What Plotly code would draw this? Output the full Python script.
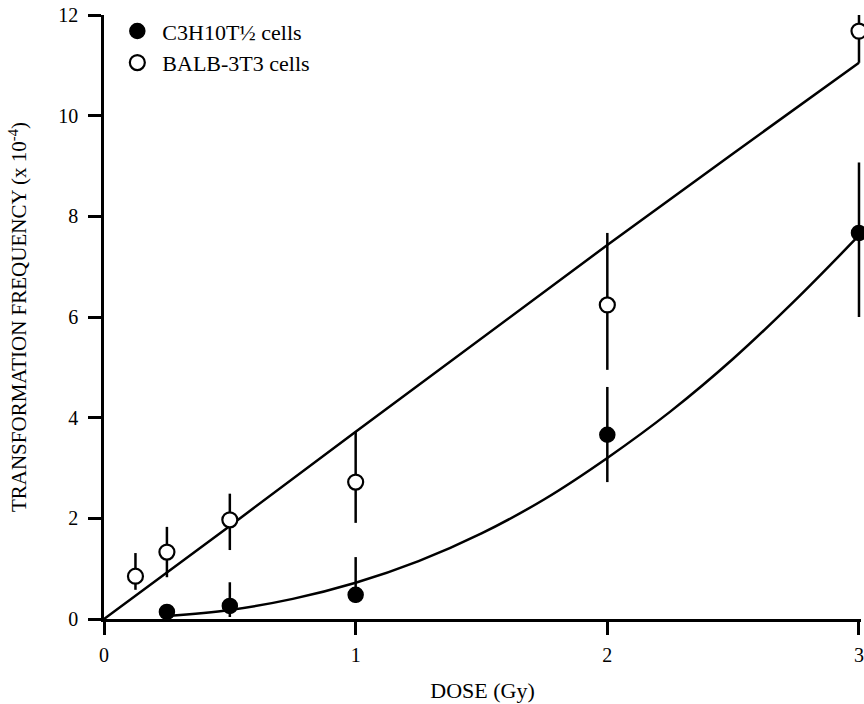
import plotly.graph_objects as go

# ---- data ----
dose_c3h = [0.25, 0.5, 1.0, 2.0, 3.0]
freq_c3h = [0.14, 0.26, 0.48, 3.66, 7.67]
err_c3h_plus = [0.0, 0.47, 0.75, 0.95, 1.40]
err_c3h_minus = [0.0, 0.22, 0.16, 0.94, 1.67]

dose_balb = [0.125, 0.25, 0.5, 1.0, 2.0, 3.0]
freq_balb = [0.85, 1.33, 1.97, 2.72, 6.24, 11.68]
err_balb_plus = [0.46, 0.50, 0.52, 1.00, 1.43, 0.42]
err_balb_minus = [0.27, 0.50, 0.60, 0.81, 1.29, 0.63]

fit_balb_x = [0, 0.5, 1.0, 1.5, 2.0, 2.5, 3.0]
fit_balb_y = [0, 1.85, 3.72, 5.58, 7.43, 9.25, 11.05]

fit_c3h_x = [0.25, 0.5, 0.75, 1.0, 1.25, 1.5, 1.75, 2.0, 2.25, 2.5, 2.75, 3.0]
fit_c3h_y = [0.06, 0.18, 0.40, 0.72, 1.15, 1.70, 2.38, 3.20, 4.12, 5.17, 6.35, 7.62]

x_ticks = [0, 1, 2, 3]
y_ticks = [0, 2, 4, 6, 8, 10, 12]

FONT = "Liberation Serif"

fig = go.Figure()

fig.add_trace(go.Scatter(x=fit_balb_x, y=fit_balb_y, mode="lines",
                         line=dict(color="black", width=2.5),
                         showlegend=False, hoverinfo="skip"))
fig.add_trace(go.Scatter(x=fit_c3h_x, y=fit_c3h_y, mode="lines",
                         line=dict(color="black", width=2.5, shape="spline", smoothing=1.0),
                         showlegend=False, hoverinfo="skip"))

fig.add_trace(go.Scatter(
    x=dose_c3h, y=freq_c3h, mode="markers", name="C3H10T½ cells",
    marker=dict(symbol="circle", size=15, color="black",
                line=dict(color="black", width=1.5)),
    error_y=dict(type="data", array=err_c3h_plus, arrayminus=err_c3h_minus,
                 symmetric=False, width=0, thickness=2.5, color="black"),
    cliponaxis=False, legendgroup="a"))

fig.add_trace(go.Scatter(
    x=dose_balb, y=freq_balb, mode="markers", name="BALB-3T3 cells",
    marker=dict(symbol="circle", size=15, color="white",
                line=dict(color="black", width=2.2)),
    error_y=dict(type="data", array=err_balb_plus, arrayminus=err_balb_minus,
                 symmetric=False, width=0, thickness=2.5, color="black"),
    cliponaxis=False, legendgroup="b"))

fig.update_layout(
    width=864, height=704,
    margin=dict(l=104, r=0, t=15, b=85),
    paper_bgcolor="white", plot_bgcolor="white",
    font=dict(family=FONT, color="black", size=20),
    legend=dict(x=0.011, y=1.008, xanchor="left", yanchor="top",
                bgcolor="rgba(0,0,0,0)", font=dict(size=22, family=FONT),
                tracegroupgap=0, itemwidth=40),
    xaxis=dict(range=[0, 3.008], tickvals=x_ticks, ticktext=[str(v) for v in x_ticks],
               showgrid=False, zeroline=False, showline=True, linecolor="black",
               linewidth=2.5, ticks="outside", ticklen=13, tickwidth=2.5,
               tickcolor="black", tickfont=dict(size=20, family=FONT),
               ticklabelstandoff=3, ticklabeloverflow="allow",
               title=dict(text="DOSE (Gy)", font=dict(size=22, family=FONT), standoff=18)),
    yaxis=dict(range=[0, 12], tickvals=y_ticks, ticktext=[str(v) for v in y_ticks],
               showgrid=False, zeroline=False, showline=True, linecolor="black",
               linewidth=2.5, ticks="outside", ticklen=13, tickwidth=2.5,
               tickcolor="black", tickfont=dict(size=20, family=FONT),
               ticklabelstandoff=6,
               title=dict(text="TRANSFORMATION FREQUENCY (x 10<sup>-4</sup>)",
                          font=dict(size=21, family=FONT), standoff=26)),
)

fig.write_html("out.html", config={"displayModeBar": False},
               post_script="document.body.style.margin='0';")
